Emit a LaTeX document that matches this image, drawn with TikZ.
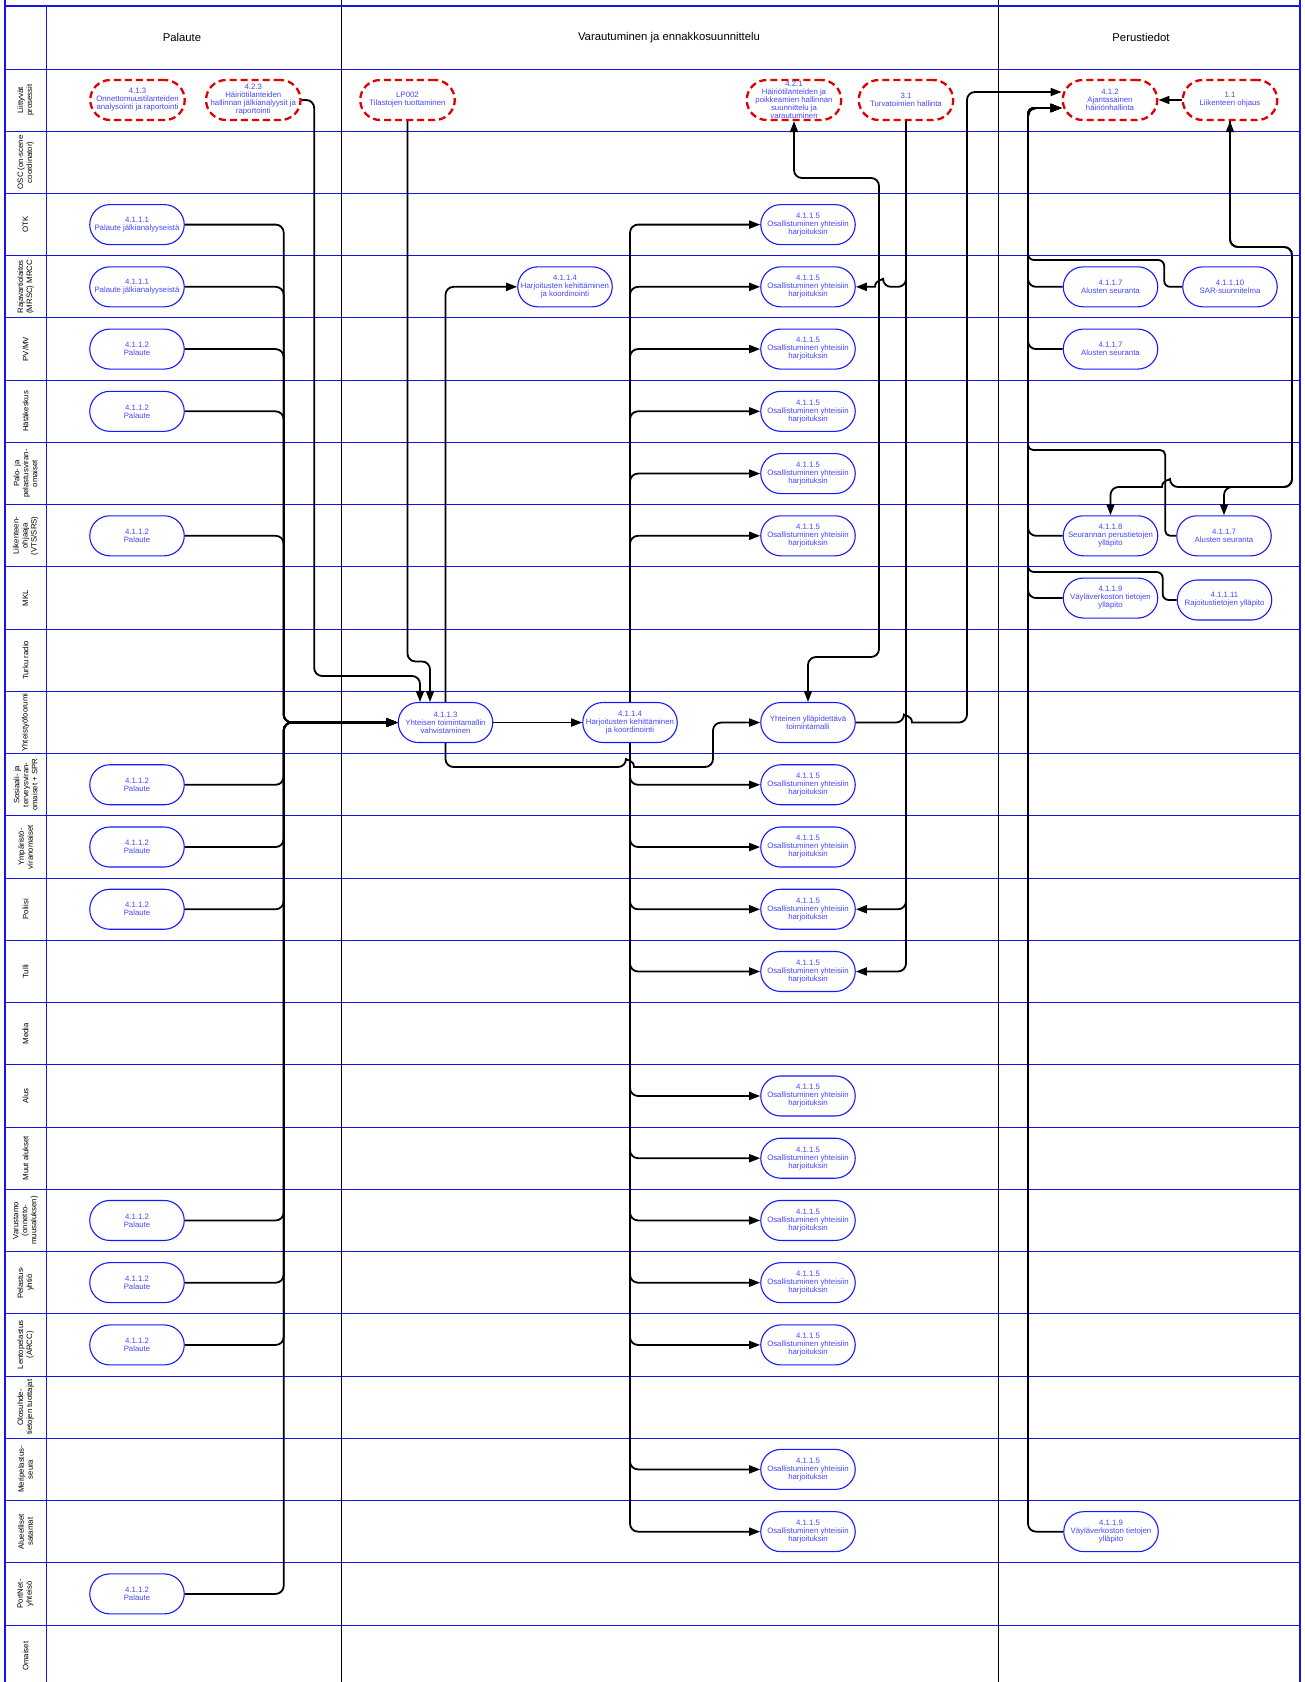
\documentclass[tikz,border=0pt]{standalone}
\usepackage{fontspec}
\setmainfont{Liberation Sans}
\usetikzlibrary{arrows.meta,calc}
\definecolor{lane}{RGB}{20,20,235}
\definecolor{nodeblue}{RGB}{25,25,255}
\definecolor{ntext}{RGB}{70,70,255}
\definecolor{procred}{RGB}{225,0,0}
\begin{document}
\begin{tikzpicture}[x=1pt,y=-1pt,
  lanel/.style={draw=lane,line width=1.2pt},
  outerb/.style={draw=lane,line width=2pt},
  csep/.style={draw=black,line width=1pt},
  task/.style={draw=nodeblue,fill=white,line width=1.1pt,rounded corners=20pt,minimum width=94.5pt,minimum height=40pt,inner sep=0pt,align=center,text=ntext,font=\fontsize{7.8}{8}\selectfont},
  proc/.style={task,draw=procred,line width=2.3pt,dash pattern=on 7pt off 4pt},
  lbl/.style={rotate=90,align=center,font=\fontsize{7.8}{9}\selectfont,inner sep=0pt},
  head/.style={font=\fontsize{11.3}{13}\selectfont,inner sep=0pt},
  conn/.style={draw=black,line width=1.8pt,rounded corners=8pt},
  >={Triangle[length=11pt,width=8pt]},
]
\useasboundingbox (0,0) rectangle (1305,1682);
\fill[white] (0,0) rectangle (1305,1682);
% lanes
\foreach \k in {0,...,25} { \draw[lanel] (5,{int(69+62.24*\k)+0.5}) -- (1300,{int(69+62.24*\k)+0.5}); }
\draw[lanel] (46.5,6) -- (46.5,1682);
\draw[csep] (341.5,0) -- (341.5,1682);
\draw[csep] (998.5,0) -- (998.5,1682);
\draw[outerb] (5,0) -- (5,1682);
\draw[outerb] (1300,0) -- (1300,1682);
\draw[outerb] (5,6) -- (1300,6);
% headers
\node[head] (hP) at (182,37.5) {Palaute};
\node[head] (hV) at (669,37.5) {Varautuminen ja ennakkosuunnittelu};
\node[head] (hT) at (1141,37.5) {Perustiedot};
% lane labels
\foreach \t [count=\i from 0] in {{Liittyvät\\prosessit},{OSC (on-scene\\coordinator)},{OTK},{Rajavartiolaitos\\(MRSC) MRCC},{PV/MV},{Hätäkeskus},{Palo- ja\\pelastusviran-\\omaiset},{Liikenteen-\\ohjaaja\\(VTS/SRS)},{MKL},{Turku radio},{Yhteistyöfoorumi},{Sosiaali- ja\\terveysviran-\\omaiset + SPR},{Ympäristö-\\viranomaiset},{Poliisi},{Tulli},{Media},{Alus},{Muut alukset},{Varustamo\\(onnetto-\\muusaluksen)},{Pelastus-\\yhtiö},{Lentopelastus\\(ARCC)},{Olosuhde-\\tietojen tuottajat},{Meripelastus-\\seura},{Alueelliset\\satamat},{PortNet-\\yhteisö},{Omaiset}}
  \node[lbl] (L\i) at (25.5,{69+62.24*(\i+0.5)}) {\t};
% related processes
\node[proc] (n413) at (137.5,100) {4.1.3\\Onnettomuustilanteiden\\analysointi ja raportointi};
\node[proc] (n423) at (253.3,100) {4.2.3\\Häiriötilanteiden\\hallinnan jälkianalyysit ja\\raportointi};
\node[proc] (nlp) at (407.5,100) {LP002\\Tilastojen tuottaminen};
\node[proc] (n421) at (794,100) {4.2.1\\Häiriötilanteiden ja\\poikkeamien hallinnan\\suunnittelu ja\\varautuminen};
\node[proc] (n31) at (906,100) {3.1\\Turvatoimien hallinta};
\node[proc] (n412) at (1110,100) {4.1.2\\Ajantasainen\\häiriönhallinta};
\node[proc] (n11) at (1230,100) {1.1\\Liikenteen ohjaus};
% Palaute column
\node[task] (p2) at (137,224.6) {4.1.1.1\\Palaute jälkianalyyseistä};
\node[task] (p3) at (137,286.84) {4.1.1.1\\Palaute jälkianalyyseistä};
\foreach \k/\y in {4/349.08,5/411.32,7/535.8,11/784.76,12/847,13/909.24,18/1220.44,19/1282.68,20/1344.92,24/1593.88}
  \node[task] (p\k) at (137,\y) {4.1.1.2\\Palaute};
% Varautuminen column
\node[task] (b3) at (565,286.84) {4.1.1.4\\Harjoitusten kehittäminen\\ja koordinointi};
\node[task] (a3) at (445.5,722.52) {4.1.1.3\\Yhteisen toimintamallin\\vahvistaminen};
\node[task] (b10) at (630,722.52) {4.1.1.4\\Harjoitusten kehittäminen\\ja koordinointi};
\node[task] (yh) at (808,722.52) {Yhteinen ylläpidettävä\\toimintamalli};
\foreach \k/\y in {2/224.6,3/286.84,4/349.08,5/411.32,6/473.56,7/535.8,11/784.76,12/847,13/909.24,14/971.48,16/1095.96,17/1158.2,18/1220.44,19/1282.68,20/1344.92,22/1469.4,23/1531.64}
  \node[task] (o\k) at (808,\y) {4.1.1.5\\Osallistuminen yhteisiin\\harjoituksin};
% Perustiedot column
\node[task] (s3a) at (1110.5,286.84) {4.1.1.7\\Alusten seuranta};
\node[task] (s3) at (1230,286.84) {4.1.1.10\\SAR-suunnitelma};
\node[task] (s4a) at (1110.5,349.08) {4.1.1.7\\Alusten seuranta};
\node[task] (f7) at (1110.5,535.8) {4.1.1.8\\Seurannan perustietojen\\ylläpito};
\node[task] (a7) at (1224,535.8) {4.1.1.7\\Alusten seuranta};
\node[task] (v8) at (1110.5,598.04) {4.1.1.9\\Väyläverkoston tietojen\\ylläpito};
\node[task] (r8) at (1224.5,600) {4.1.1.11\\Rajoitustietojen ylläpito};
\node[task] (v23) at (1111,1531.64) {4.1.1.9\\Väyläverkoston tietojen\\ylläpito};
% ---- connectors ----
\coordinate (pj) at ($(a3.west)+(-114,0)$);
\foreach \k in {2,3,4,5,7,11,12,13,18,19,20,24}
  \draw[conn,->] (p\k.east) -| (pj) -- (a3.west);
\draw[conn,->] (n423.east) -- ++(12.5,0) |- ($(a3.north)+(-25.5,-26)$) -- ($(a3.north)+(-25.5,0)$);
\draw[conn,->] (nlp.south) |- ($(a3.north)+(-15.5,-40.5)$) -- ($(a3.north)+(-15.5,0)$);
\draw[conn,->] (a3.east) -- (b10.west);
\draw[conn,->] (a3.north) |- (b3.west);
\draw[conn,->] (a3.south) -- (445.5,767) -- (626,767) [sharp corners] .. controls (626,760) and (634,760) .. (634,767) -- (690,767) [rounded corners=8pt] -- (713,767) |- (yh.west);
\foreach \k in {2,3,4,5,6,7}
  \draw[conn,->] (b10.north) |- (o\k.west);
\foreach \k in {11,12,13,14,16,17,18,19,20,22,23}
  \draw[conn,->] (b10.south) |- (o\k.west);
\draw[conn,->] (yh.east) -- (904,722.52) [sharp corners] .. controls (904,715.5) and (912,715.5) .. (912,722.52) -- (930,722.52) [rounded corners=8pt] -- (967,722.52) |- ($(n412.west)+(0,-8)$);
\draw[conn,<->] (n421.south) |- (879,178) -- (879,657) -| (yh.north);
\draw[conn,->] (n31.south) |- (883,286.84) [sharp corners] .. controls (883,279.8) and (875,279.8) .. (875,286.84) -- (o3.east);
\draw[conn,->] (n31.south) |- (o13.east);
\draw[conn,->] (n31.south) |- (o14.east);
\draw[conn,->] (n11.west) -- (n412.east);
\draw[conn,<->] (n11.south) |- (1292,247) -- (1292,487) -| (a7.north);
\draw[conn,->] (n11.south) |- (1292,247) -- (1292,487) -- (1170,487) [sharp corners] .. controls (1170,480) and (1162,480) .. (1162,487) -- (1150,487) [rounded corners=8pt] -| (f7.north);
\coordinate (tj) at (1028,108);
\coordinate (te) at ($(n412.west)+(0,8)$);
\foreach \n in {s3a,s4a,f7,v8,v23}
  \draw[conn,->] (\n.west) -| (tj) -- (te);
\draw[conn,->,rounded corners=6pt] (s3.west) -- ++(-18,0) -- ++(0,-26.84) -| (tj) -- (te);
\draw[conn,->,rounded corners=5pt] (a7.west) -- ++(-11,0) -- ++(0,-85.8) -| (tj) -- (te);
\draw[conn,->,rounded corners=6pt] (r8.west) -- ++(-14,0) -- ++(0,-28) -| (tj) -- (te);
\end{tikzpicture}
\end{document}
